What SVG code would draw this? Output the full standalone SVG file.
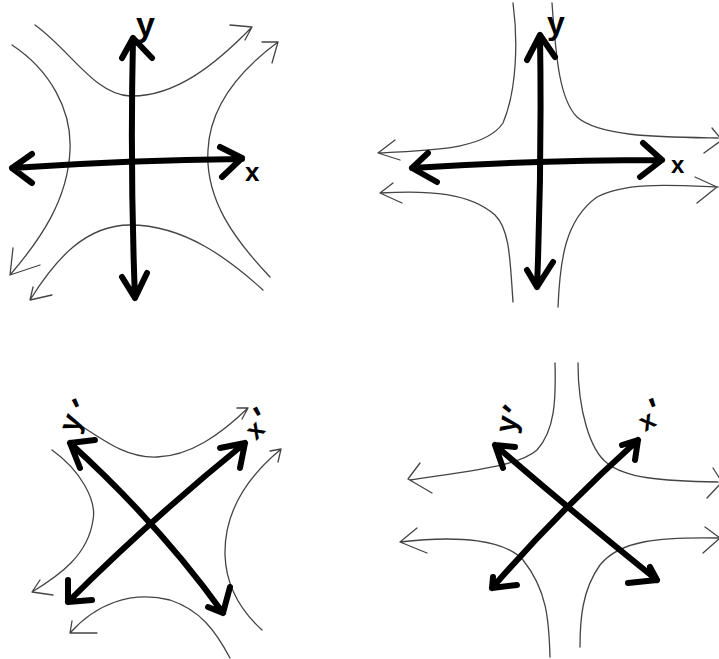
<svg xmlns="http://www.w3.org/2000/svg" width="719" height="659" viewBox="0 0 719 659">
<style>
.flow{fill:none;stroke:#444;stroke-width:1.3;stroke-linecap:round;stroke-linejoin:round}
.axis{fill:none;stroke:#000;stroke-width:6;stroke-linecap:round;stroke-linejoin:round}
.lbl{font-family:"Liberation Sans","DejaVu Sans",sans-serif;font-weight:bold;fill:#000}
</style>
<rect width="719" height="659" fill="#fff"/>
<g id="panel1">
<path class="flow" d="M35,25 C70,50 95,95 130,96 C175,97 215,65 252,27 M230,25 L252,27 L245,40"/>
<path class="flow" d="M270,277 C235,240 205,200 208,150 C210,105 240,70 278,42 M262,42 L278,42 L272,63"/>
<path class="flow" d="M12,45 C50,70 72,110 70,150 C68,200 40,240 10,275 M13,248 L10,275 L40,265"/>
<path class="flow" d="M263,290 C230,260 185,225 130,225 C85,225 55,260 30,300 M33,287 L30,300 L52,295"/>
<path class="axis" d="M12,168 Q130,160 242,159 M32,154 L12,168 L32,183 M220,147 L242,158 L222,177"/>
<path class="axis" d="M133,38 Q130,170 135,298 M122,58 L133,38 L152,58 M122,277 L135,298 L147,273"/>
<text class="lbl" x="136" y="36" font-size="34">y</text>
<text class="lbl" x="245" y="181" font-size="26">x</text>
</g>
<g id="panel2">
<path class="flow" d="M513,3 C518,40 517,90 503,123 C485,150 430,150 380,153 M395,140 L378,153 L400,160"/>
<path class="flow" d="M552,3 C556,60 560,100 577,117 C600,137 660,137 718,138 M704,153 L722,140 L712,128"/>
<path class="flow" d="M513,302 C510,260 510,230 495,215 C470,193 430,190 380,193 M393,183 L380,193 L402,203"/>
<path class="flow" d="M558,307 C560,260 565,220 597,197 C625,182 670,185 718,187 M695,177 L717,187 L697,203"/>
<path class="axis" d="M412,168 Q540,160 662,160 M428,153 L412,168 L437,182 M643,143 L662,160 L640,177"/>
<path class="axis" d="M540,35 Q542,160 537,287 M527,60 L540,35 L555,57 M527,270 L537,287 L553,262"/>
<text class="lbl" x="547" y="34" font-size="32">y</text>
<text class="lbl" x="671" y="173" font-size="24">x</text>
</g>
<g id="panel3">
<path class="flow" d="M83,427 C110,445 130,458 157,457 C190,456 220,435 248,408 M237,408 L248,408 L242,419"/>
<path class="flow" d="M52,450 C80,470 97,500 93,520 C88,555 60,575 32,592 M40,580 L32,592 L53,595"/>
<path class="flow" d="M262,630 C240,610 226,585 225,555 C224,510 250,475 280,450 M270,451 L281,449 L278,462"/>
<path class="flow" d="M230,658 C215,630 200,610 170,600 C130,590 95,605 70,633 M72,621 L70,633 L97,633"/>
<path class="axis" d="M68,602 Q150,520 245,443 M220,448 L245,443 L240,468 M68,580 L68,602 L92,600"/>
<path class="axis" d="M70,443 Q160,525 223,613 M95,440 L70,443 L80,468 M208,607 L223,613 L230,587"/>
<text class="lbl" font-size="30" x="77" y="434" rotate="-70">y<tspan x="80" y="422" rotate="-25" font-size="34">'</tspan></text>
<text class="lbl" font-size="26" x="256" y="441" rotate="-45">x<tspan x="263" y="430" rotate="-30" font-size="34">'</tspan></text>
</g>
<g id="panel4">
<path class="flow" d="M555,363 C556,400 555,430 537,450 C520,465 480,470 410,480 M420,463 L408,479 L432,493"/>
<path class="flow" d="M578,363 C578,410 590,450 607,463 C625,478 660,481 718,482 M713,468 L722,482 L707,498"/>
<path class="flow" d="M550,657 C549,620 547,590 523,560 C505,540 460,535 400,542 M417,528 L400,542 L427,553"/>
<path class="flow" d="M580,647 C580,620 582,590 600,565 C620,540 660,537 718,538 M705,527 L720,538 L703,553"/>
<path class="axis" d="M492,588 Q560,510 638,440 M622,445 L638,440 L635,460 M493,577 L492,588 L517,585"/>
<path class="axis" d="M495,445 Q570,510 657,580 M515,447 L495,445 L503,468 M628,583 L657,580 L650,567"/>
<text class="lbl" font-size="30" x="515" y="434" rotate="-80">y<tspan x="519" y="424" rotate="-50" font-size="34">'</tspan></text>
<text class="lbl" font-size="26" x="645" y="432" rotate="-30">x<tspan x="655" y="422" rotate="-20" font-size="34">'</tspan></text>
</g>
</svg>
